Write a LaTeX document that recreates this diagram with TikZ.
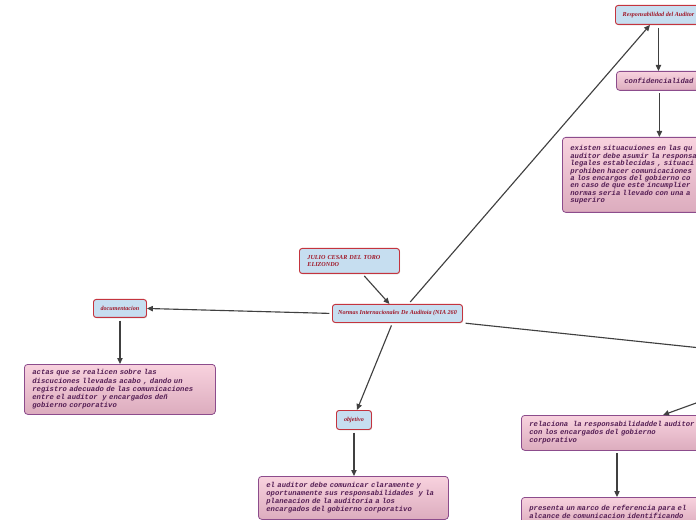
\documentclass[tikz,border=0pt]{standalone}
\usepackage{fontspec}
\usepackage{xcolor}
\setmainfont{Liberation Serif}
\newfontfamily\notefont{Liberation Mono}
\definecolor{myred}   {RGB}{196, 52, 62}
\definecolor{mytxt}   {RGB}{160, 24, 40}
\definecolor{myblue}  {RGB}{198, 222, 240}
\definecolor{mypur}   {RGB}{140, 76, 140}
\definecolor{mypinkt} {RGB}{248, 210, 222}
\definecolor{mypinkb} {RGB}{220, 172, 190}
\definecolor{mynote}  {RGB}{84, 30, 84}
\definecolor{myline}  {RGB}{64, 64, 64}
\usetikzlibrary{arrows.meta, calc, shadows}

\begin{document}
\begin{tikzpicture}[x=0.75pt, y=-0.75pt,
    topic/.style={draw=myred, fill=myblue, line width=0.7pt, rounded corners=2pt, anchor=north west, text=mytxt,
        font=\fontsize{4.6}{5.8}\selectfont\bfseries\itshape, drop shadow={shadow xshift=0.5pt, shadow yshift=-0.6pt, opacity=0.35}},
    note/.style={draw=mypur, top color=mypinkt, bottom color=mypinkb, line width=0.6pt, rounded corners=2.5pt, anchor=north west,
        text=mynote, align=left, inner xsep=6pt, font=\notefont\fontsize{5.4}{6.1}\selectfont\bfseries\itshape},
    link/.style={draw=myline, line width=0.85pt, -{Triangle[length=4.5pt, width=4pt]}, shorten <=2pt}
]
        \useasboundingbox (0,0) rectangle (696,520);
        \clip (0,0) rectangle (696,520);

        % centre and the author
        \node[topic, minimum width=97.5pt, minimum height=13.5pt] (normas) at (332,304) {Normas Internacionales De Auditoia (NIA 260};
        \node[topic, minimum height=18.75pt, text width=63pt, inner xsep=6pt, align=left] (julio) at (299,248) {JULIO CESAR DEL TORO\\ELIZONDO};

        % branches
        \node[topic, minimum width=64.5pt, minimum height=14.25pt] (resp) at (615,5) {Responsabilidad del Auditor};
        \node[topic, minimum width=39.75pt, minimum height=13.5pt] (doc) at (93,299) {documentacion};
        \node[topic, minimum width=26.25pt, minimum height=14.25pt] (obj) at (336,410) {objetivo};
        \coordinate (hid) at (815,360);

        % notes
        \node[note, text width=52.5pt, minimum height=14.25pt] (conf) at (616,71) {confidencialidad};
        \node[note, text width=132pt, minimum height=56.25pt, font=\notefont\fontsize{5.4}{5.6}\selectfont\bfseries\itshape] (exist) at (562,137)
            {existen situacuiones en las qu\\auditor debe asumir la responsa\\legales establecidas , situaci\\prohiben hacer comunicaciones\\a los encargos del gobierno co\\en caso de que este incumplier\\normas seria llevado con una a\\superiro};
        \node[note, text width=131.25pt, minimum height=37.5pt] (actas) at (24,364)
            {actas que se realicen sobre las\\discuciones llevadas acabo , dando un\\registro adecuado de las comunicaciones\\entre el auditor\ \ y encargados deñ\\gobierno corporativo};
        \node[note, text width=130.5pt, minimum height=32.25pt] (elaud) at (258,476)
            {el auditor debe comunicar claramente y\\oportunamente sus responsabilidades\ \ y la\\planeacion de la auditoria a los\\encargados del gobierno corporativo};
        \node[note, text width=201pt, minimum height=26.25pt] (relac) at (521,415)
            {relaciona\ \ la responsabilidaddel auditor\\con los encargados del gobierno\\corporativo};
        \node[note, text width=201pt, inner ysep=5.5pt] (pres) at (521,497)
            {presenta un marco de referencia para el\\alcance de comunicacion identificando};

        % connectors
        \draw[link] ($(normas.north)+(11,0)$) -- ($(resp.south west)+(35,0)$);
        \draw[link] (resp.south) -- (resp.south |- conf.north);
        \draw[link] (conf.south) -- (conf.south |- exist.north);
        \draw[link] ($(julio.south)+(13,0)$) -- ($(normas.north)+(-8,0)$);
        \draw[link] (normas.west) -- (doc.east);
        \draw[link] (doc.south) -- (doc.south |- actas.north);
        \draw[link] ($(normas.south)+(-5,0)$) -- ($(obj.north)+(3,0)$);
        \draw[link] (obj.south) -- (obj.south |- elaud.north);
        \draw[link, -] (normas.south east) -- (hid);
        \draw[link] (hid) -- ($(relac.north west)+(142,0)$);
        \draw[link] ($(relac.south west)+(96,0)$) -- ($(pres.north west)+(96,0)$);
    \end{tikzpicture}
\end{document}
